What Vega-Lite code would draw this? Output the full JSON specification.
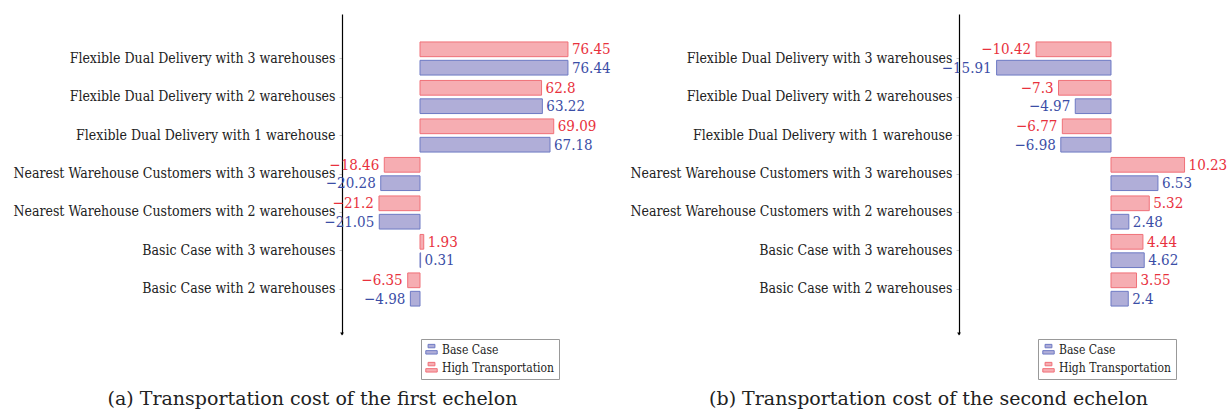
{
  "$schema": "https://vega.github.io/schema/vega-lite/v6.json",
  "padding": {"left": 12, "top": 14, "right": 0, "bottom": 0},
  "background": "white",
  "bounds": "flush",
  "spacing": 347,
  "datasets": {
    "first": [
      {"case": "Flexible Dual Delivery with 3 warehouses", "series": "High Transportation", "value": 76.45},
      {"case": "Flexible Dual Delivery with 3 warehouses", "series": "Base Case", "value": 76.44},
      {"case": "Flexible Dual Delivery with 2 warehouses", "series": "High Transportation", "value": 62.8},
      {"case": "Flexible Dual Delivery with 2 warehouses", "series": "Base Case", "value": 63.22},
      {"case": "Flexible Dual Delivery with 1 warehouse", "series": "High Transportation", "value": 69.09},
      {"case": "Flexible Dual Delivery with 1 warehouse", "series": "Base Case", "value": 67.18},
      {"case": "Nearest Warehouse Customers with 3 warehouses", "series": "High Transportation", "value": -18.46},
      {"case": "Nearest Warehouse Customers with 3 warehouses", "series": "Base Case", "value": -20.28},
      {"case": "Nearest Warehouse Customers with 2 warehouses", "series": "High Transportation", "value": -21.2},
      {"case": "Nearest Warehouse Customers with 2 warehouses", "series": "Base Case", "value": -21.05},
      {"case": "Basic Case with 3 warehouses", "series": "High Transportation", "value": 1.93},
      {"case": "Basic Case with 3 warehouses", "series": "Base Case", "value": 0.31},
      {"case": "Basic Case with 2 warehouses", "series": "High Transportation", "value": -6.35},
      {"case": "Basic Case with 2 warehouses", "series": "Base Case", "value": -4.98}
    ],
    "second": [
      {"case": "Flexible Dual Delivery with 3 warehouses", "series": "High Transportation", "value": -10.42},
      {"case": "Flexible Dual Delivery with 3 warehouses", "series": "Base Case", "value": -15.91},
      {"case": "Flexible Dual Delivery with 2 warehouses", "series": "High Transportation", "value": -7.3},
      {"case": "Flexible Dual Delivery with 2 warehouses", "series": "Base Case", "value": -4.97},
      {"case": "Flexible Dual Delivery with 1 warehouse", "series": "High Transportation", "value": -6.77},
      {"case": "Flexible Dual Delivery with 1 warehouse", "series": "Base Case", "value": -6.98},
      {"case": "Nearest Warehouse Customers with 3 warehouses", "series": "High Transportation", "value": 10.23},
      {"case": "Nearest Warehouse Customers with 3 warehouses", "series": "Base Case", "value": 6.53},
      {"case": "Nearest Warehouse Customers with 2 warehouses", "series": "High Transportation", "value": 5.32},
      {"case": "Nearest Warehouse Customers with 2 warehouses", "series": "Base Case", "value": 2.48},
      {"case": "Basic Case with 3 warehouses", "series": "High Transportation", "value": 4.44},
      {"case": "Basic Case with 3 warehouses", "series": "Base Case", "value": 4.62},
      {"case": "Basic Case with 2 warehouses", "series": "High Transportation", "value": 3.55},
      {"case": "Basic Case with 2 warehouses", "series": "Base Case", "value": 2.4}
    ]
  },
  "hconcat": [
    {
      "width": 270,
      "height": 320,
      "data": {"name": "first"},
      "title": {"text": "(a) Transportation cost of the first echelon", "orient": "bottom", "frame": "bounds", "anchor": "middle", "offset": 10},
      "layer": [
        {
          "encoding": {
            "y": {
              "field": "case", "type": "nominal", "sort": null,
              "scale": {"domain": ["Flexible Dual Delivery with 3 warehouses", "Flexible Dual Delivery with 2 warehouses", "Flexible Dual Delivery with 1 warehouse", "Nearest Warehouse Customers with 3 warehouses", "Nearest Warehouse Customers with 2 warehouses", "Basic Case with 3 warehouses", "Basic Case with 2 warehouses"], "paddingInner": 0.14, "paddingOuter": 0.726},
              "axis": {"title": null, "domainColor": "black", "domainWidth": 1.2, "tickColor": "#c8c8c8", "tickSize": 3, "labelPadding": 4, "labelFont": "DejaVu Serif Condensed, DejaVu Serif", "labelFontSize": 14, "labelColor": "#222", "labelLimit": 500}
            },
            "yOffset": {"field": "series", "type": "nominal", "sort": ["High Transportation", "Base Case"], "scale": {"paddingInner": 0.2, "paddingOuter": 0}},
            "x": {"field": "value", "type": "quantitative", "scale": {"domain": [-40.3, 99.2], "nice": false, "zero": false}, "axis": null}
          },
          "layer": [
            {
              "mark": {"type": "bar", "strokeWidth": 1, "fillOpacity": 1},
              "encoding": {
                "fill": {"field": "series", "type": "nominal", "scale": {"domain": ["Base Case", "High Transportation"], "range": ["#b0aed8", "#f6adb2"]},
                  "legend": {"title": null, "orient": "none", "legendX": 79, "legendY": 325, "direction": "vertical"}},
                "stroke": {"field": "series", "type": "nominal", "scale": {"domain": ["Base Case", "High Transportation"], "range": ["#6e7ac4", "#f07078"]},
                  "legend": {"title": null, "orient": "none", "legendX": 79, "legendY": 325, "direction": "vertical"}}
              }
            },
            {
              "transform": [{"filter": "datum.value >= 0"}],
              "mark": {"type": "text", "align": "left", "baseline": "middle", "dx": 4, "font": "DejaVu Serif Condensed, DejaVu Serif", "fontSize": 15},
              "encoding": {
                "text": {"field": "value", "type": "quantitative", "format": "~f"},
                "color": {"field": "series", "type": "nominal", "scale": {"domain": ["Base Case", "High Transportation"], "range": ["#3b4ea6", "#e8313d"]}, "legend": null}
              }
            },
            {
              "transform": [{"filter": "datum.value < 0"}],
              "mark": {"type": "text", "align": "right", "baseline": "middle", "dx": -5, "font": "DejaVu Serif Condensed, DejaVu Serif", "fontSize": 15},
              "encoding": {
                "text": {"field": "value", "type": "quantitative", "format": "~f"},
                "color": {"field": "series", "type": "nominal", "scale": {"domain": ["Base Case", "High Transportation"], "range": ["#3b4ea6", "#e8313d"]}, "legend": null}
              }
            }
          ]
        },
        {
          "data": {"values": [{}]},
          "mark": {"type": "point", "shape": "triangle-down", "filled": true, "color": "black", "size": 14, "opacity": 1},
          "encoding": {
            "x": {"datum": -40.3, "type": "quantitative", "axis": null},
            "y": {"datum": 0, "type": "quantitative", "scale": {"domain": [0, 1]}, "axis": null}
          }
        }
      ],
      "resolve": {"scale": {"y": "independent"}}
    },
    {
      "width": 250,
      "height": 320,
      "data": {"name": "second"},
      "title": {"text": "(b) Transportation cost of the second echelon", "orient": "bottom", "frame": "bounds", "anchor": "middle", "offset": 10},
      "layer": [
        {
          "encoding": {
            "y": {
              "field": "case", "type": "nominal", "sort": null,
              "scale": {"domain": ["Flexible Dual Delivery with 3 warehouses", "Flexible Dual Delivery with 2 warehouses", "Flexible Dual Delivery with 1 warehouse", "Nearest Warehouse Customers with 3 warehouses", "Nearest Warehouse Customers with 2 warehouses", "Basic Case with 3 warehouses", "Basic Case with 2 warehouses"], "paddingInner": 0.14, "paddingOuter": 0.726},
              "axis": {"title": null, "domainColor": "black", "domainWidth": 1.2, "tickColor": "#c8c8c8", "tickSize": 3, "labelPadding": 4, "labelFont": "DejaVu Serif Condensed, DejaVu Serif", "labelFontSize": 14, "labelColor": "#222", "labelLimit": 500}
            },
            "yOffset": {"field": "series", "type": "nominal", "sort": ["High Transportation", "Base Case"], "scale": {"paddingInner": 0.2, "paddingOuter": 0}},
            "x": {"field": "value", "type": "quantitative", "scale": {"domain": [-21.14, 13.63], "nice": false, "zero": false}, "axis": null}
          },
          "layer": [
            {
              "mark": {"type": "bar", "strokeWidth": 1, "fillOpacity": 1},
              "encoding": {
                "fill": {"field": "series", "type": "nominal", "scale": {"domain": ["Base Case", "High Transportation"], "range": ["#b0aed8", "#f6adb2"]},
                  "legend": {"title": null, "orient": "none", "legendX": 79, "legendY": 325, "direction": "vertical"}},
                "stroke": {"field": "series", "type": "nominal", "scale": {"domain": ["Base Case", "High Transportation"], "range": ["#6e7ac4", "#f07078"]},
                  "legend": {"title": null, "orient": "none", "legendX": 79, "legendY": 325, "direction": "vertical"}}
              }
            },
            {
              "transform": [{"filter": "datum.value >= 0"}],
              "mark": {"type": "text", "align": "left", "baseline": "middle", "dx": 4, "font": "DejaVu Serif Condensed, DejaVu Serif", "fontSize": 15},
              "encoding": {
                "text": {"field": "value", "type": "quantitative", "format": "~f"},
                "color": {"field": "series", "type": "nominal", "scale": {"domain": ["Base Case", "High Transportation"], "range": ["#3b4ea6", "#e8313d"]}, "legend": null}
              }
            },
            {
              "transform": [{"filter": "datum.value < 0"}],
              "mark": {"type": "text", "align": "right", "baseline": "middle", "dx": -5, "font": "DejaVu Serif Condensed, DejaVu Serif", "fontSize": 15},
              "encoding": {
                "text": {"field": "value", "type": "quantitative", "format": "~f"},
                "color": {"field": "series", "type": "nominal", "scale": {"domain": ["Base Case", "High Transportation"], "range": ["#3b4ea6", "#e8313d"]}, "legend": null}
              }
            }
          ]
        },
        {
          "data": {"values": [{}]},
          "mark": {"type": "point", "shape": "triangle-down", "filled": true, "color": "black", "size": 14, "opacity": 1},
          "encoding": {
            "x": {"datum": -21.14, "type": "quantitative", "axis": null},
            "y": {"datum": 0, "type": "quantitative", "scale": {"domain": [0, 1]}, "axis": null}
          }
        }
      ],
      "resolve": {"scale": {"y": "independent"}}
    }
  ],
  "resolve": {
    "scale": {"fill": "independent", "stroke": "independent", "color": "independent"},
    "legend": {"fill": "independent", "stroke": "independent", "color": "independent"}
  },
  "config": {
    "view": {"stroke": null},
    "title": {"font": "DejaVu Serif", "fontSize": 19, "fontWeight": "normal", "color": "#222"},
    "legend": {
      "strokeColor": "#999",
      "fillColor": "white",
      "padding": 4,
      "symbolType": "M-0.6,-0.9H0.6V-0.3H-0.6Z M-1,0.2H1V0.8H-1Z",
      "symbolSize": 130,
      "symbolStrokeWidth": 1,
      "labelFont": "DejaVu Serif Condensed, DejaVu Serif",
      "labelFontSize": 12,
      "labelColor": "#222",
      "rowPadding": 3,
      "labelOffset": 4
    }
  }
}
